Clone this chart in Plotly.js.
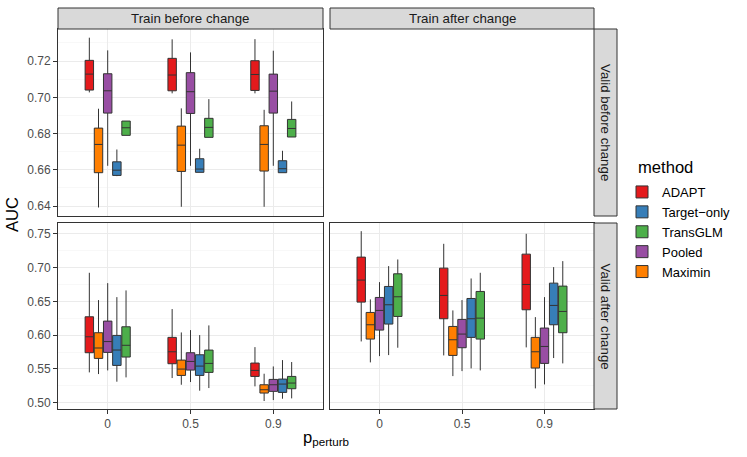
<!DOCTYPE html>
<html>
<head>
<meta charset="utf-8">
<script src="https://cdn.plot.ly/plotly-3.0.1.min.js"></script>
<style>html,body{margin:0;padding:0;background:#fff;}#chart{width:747px;height:457px;}</style>
</head>
<body>
<div id="chart"></div>
<script>
// ---- data ----
const pLabels = ['0', '0.5', '0.9'];
const methods = ['ADAPT', 'Maximin', 'Pooled', 'Target\u2212only', 'TransGLM']; // plotting (dodge) order
const legendOrder = ['ADAPT', 'Target\u2212only', 'TransGLM', 'Pooled', 'Maximin'];
const methodColors = ['#E41A1C', '#FF7F00', '#984EA3', '#377EB8', '#4DAF4A'];
const facetCols = ['Train before change', 'Train after change'];
const facetRows = ['Valid before change', 'Valid after change'];

// Panel: Train before change / Valid before change  (rows = methods, cols = pLabels)
const tbvbUpper  = [[0.7329,0.7320,0.7321],[0.6937,0.6939,0.6931],[0.7259,0.7248,0.7257],[0.6712,0.6716,0.6705],[0.6869,0.6990,0.6977]];
const tbvbQ3     = [[0.7204,0.7215,0.7202],[0.6830,0.6841,0.6843],[0.7130,0.7136,0.7128],[0.6644,0.6661,0.6650],[0.6869,0.6884,0.6878]];
const tbvbMedian = [[0.7128,0.7123,0.7126],[0.6740,0.6736,0.6740],[0.7036,0.7031,0.7034],[0.6598,0.6604,0.6606],[0.6832,0.6834,0.6828]];
const tbvbQ1     = [[0.7040,0.7036,0.7038],[0.6584,0.6591,0.6593],[0.6913,0.6911,0.6913],[0.6569,0.6586,0.6584],[0.6790,0.6779,0.6781]];
const tbvbLower  = [[0.7027,0.7022,0.7022],[0.6392,0.6396,0.6396],[0.6622,0.6622,0.6622],[0.6565,0.6586,0.6584],[0.6790,0.6779,0.6781]];

// Panel: Train before change / Valid after change
const tbvaUpper  = [[0.6923,0.6386,0.5823],[0.6519,0.6040,0.5429],[0.6770,0.6075,0.5537],[0.6563,0.6001,0.5631],[0.6662,0.6144,0.5602]];
const tbvaQ3     = [[0.6272,0.5967,0.5587],[0.6036,0.5631,0.5266],[0.6208,0.5740,0.5345],[0.5996,0.5710,0.5350],[0.6124,0.5779,0.5389]];
const tbvaMedian = [[0.5976,0.5754,0.5478],[0.5810,0.5498,0.5192],[0.5905,0.5611,0.5266],[0.5780,0.5542,0.5276],[0.5850,0.5582,0.5291]];
const tbvaQ1     = [[0.5740,0.5577,0.5389],[0.5656,0.5404,0.5143],[0.5745,0.5483,0.5168],[0.5552,0.5404,0.5153],[0.5676,0.5449,0.5207]];
const tbvaLower  = [[0.5449,0.5365,0.5242],[0.5424,0.5266,0.5025],[0.5478,0.5306,0.5039],[0.5311,0.5178,0.5059],[0.5375,0.5217,0.5064]];

// Panel: Train after change / Valid after change
const tavaUpper  = [[0.7539,0.7352,0.7500],[0.6529,0.6366,0.6267],[0.6785,0.6519,0.6563],[0.7022,0.6839,0.7007],[0.7120,0.6923,0.7096]];
const tavaQ3     = [[0.7155,0.6992,0.7199],[0.6336,0.6129,0.5967],[0.6558,0.6233,0.6105],[0.6721,0.6543,0.6770],[0.6908,0.6647,0.6726]];
const tavaMedian = [[0.6815,0.6588,0.6750],[0.6154,0.5932,0.5754],[0.6366,0.6016,0.5833],[0.6450,0.6243,0.6440],[0.6568,0.6252,0.6351]];
const tavaQ1     = [[0.6489,0.6243,0.6376],[0.5942,0.5700,0.5513],[0.6075,0.5814,0.5582],[0.6164,0.5967,0.6154],[0.6277,0.5942,0.6036]];
const tavaLower  = [[0.5907,0.5700,0.5819],[0.5597,0.5394,0.5212],[0.5690,0.5468,0.5271],[0.5705,0.5508,0.5661],[0.5814,0.5478,0.5582]];

const yTopTicks = [0.64, 0.66, 0.68, 0.70, 0.72];
const yBotTicks = [0.50, 0.55, 0.60, 0.65, 0.70, 0.75];

// ---- build ----
const FONT = 'Liberation Sans, Arial, Helvetica, sans-serif';
const panels = [
  {xa: 'x3', ya: 'y3', up: tbvbUpper, q3: tbvbQ3, med: tbvbMedian, q1: tbvbQ1, lo: tbvbLower, legend: true},
  {xa: 'x',  ya: 'y',  up: tbvaUpper, q3: tbvaQ3, med: tbvaMedian, q1: tbvaQ1, lo: tbvaLower, legend: false},
  {xa: 'x2', ya: 'y2', up: tavaUpper, q3: tavaQ3, med: tavaMedian, q1: tavaQ1, lo: tavaLower, legend: false}
];
const traces = [];
panels.forEach(p => {
  methods.forEach((m, i) => {
    traces.push({
      type: 'box',
      name: m,
      legendgroup: m,
      offsetgroup: m,
      showlegend: p.legend,
      legendrank: legendOrder.indexOf(m) + 1,
      xaxis: p.xa, yaxis: p.ya,
      x: pLabels,
      q1: p.q1[i], median: p.med[i], q3: p.q3[i],
      lowerfence: p.lo[i], upperfence: p.up[i],
      fillcolor: methodColors[i],
      line: {color: '#333333', width: 1},
      whiskerwidth: 0,
      boxpoints: false,
      hoverinfo: 'skip'
    });
  });
});

const gridC = '#ebebeb';
const L = 58, R = 594, T = 8, B = 409;
const W = R - L, H = B - T;
const px = v => (v - L) / W;
const py = v => 1 - (v - T) / H;

const xLeft = [px(58), px(323)];
const xRight = [px(330), px(594)];
const yTop = [py(216), py(29)];
const yBot = [py(409), py(223)];

function xAxis(domain, anchor, labels, isCat) {
  const a = {
    domain: domain, anchor: anchor,
    range: [-0.6, 2.6],
    showgrid: true, gridcolor: gridC, gridwidth: 1,
    showline: true, mirror: true, linecolor: '#333333', linewidth: 1,
    zeroline: false,
    ticks: labels ? 'outside' : '', ticklen: 4, tickcolor: '#333333',
    showticklabels: labels,
    tickfont: {family: FONT, size: 12, color: '#4d4d4d'},
    fixedrange: true
  };
  if (isCat) { a.type = 'category'; a.categoryorder = 'array'; a.categoryarray = pLabels; }
  else { a.type = 'linear'; a.tickvals = [0, 1, 2]; }
  return a;
}
function yAxis(domain, anchor, range, ticks, minorDt, labels) {
  return {
    domain: domain, anchor: anchor, range: range,
    tickvals: ticks, ticktext: ticks.map(v => v.toFixed(2)),
    showgrid: true, gridcolor: gridC, gridwidth: 1,
    minor: {showgrid: true, gridcolor: '#f3f3f3', gridwidth: 0.6, dtick: minorDt, tick0: 0, ticks: ''},
    showline: true, mirror: true, linecolor: '#333333', linewidth: 1,
    zeroline: false,
    ticks: labels ? 'outside' : '', ticklen: 4, tickcolor: '#333333',
    showticklabels: labels,
    tickfont: {family: FONT, size: 12, color: '#4d4d4d'},
    fixedrange: true
  };
}
const topRange = [0.6345, 0.7377];
const botRange = [0.4907, 0.7660];

const stripFill = '#d9d9d9', stripLine = '#333333';
const shapes = [
  {type: 'rect', xref: 'paper', yref: 'paper', x0: xLeft[0], x1: xLeft[1], y0: yTop[1], y1: 1, fillcolor: stripFill, line: {color: stripLine, width: 1}},
  {type: 'rect', xref: 'paper', yref: 'paper', x0: xRight[0], x1: xRight[1], y0: yTop[1], y1: 1, fillcolor: stripFill, line: {color: stripLine, width: 1}},
  {type: 'rect', xref: 'paper', yref: 'paper', x0: 1, x1: px(617), y0: yTop[0], y1: yTop[1], fillcolor: stripFill, line: {color: stripLine, width: 1}},
  {type: 'rect', xref: 'paper', yref: 'paper', x0: 1, x1: px(617), y0: yBot[0], y1: yBot[1], fillcolor: stripFill, line: {color: stripLine, width: 1}}
];
const stripFont = {family: FONT, size: 13.3, color: '#1a1a1a'};
const annotations = [
  {text: facetCols[0], xref: 'paper', yref: 'paper', x: (xLeft[0] + xLeft[1]) / 2, y: (yTop[1] + 1) / 2, showarrow: false, font: stripFont, xanchor: 'center', yanchor: 'middle'},
  {text: facetCols[1], xref: 'paper', yref: 'paper', x: (xRight[0] + xRight[1]) / 2, y: (yTop[1] + 1) / 2, showarrow: false, font: stripFont, xanchor: 'center', yanchor: 'middle'},
  {text: facetRows[0], xref: 'paper', yref: 'paper', x: px(605.5), y: (yTop[0] + yTop[1]) / 2, showarrow: false, font: stripFont, textangle: 90, xanchor: 'center', yanchor: 'middle'},
  {text: facetRows[1], xref: 'paper', yref: 'paper', x: px(605.5), y: (yBot[0] + yBot[1]) / 2, showarrow: false, font: stripFont, textangle: 90, xanchor: 'center', yanchor: 'middle'},
  {text: 'AUC', xref: 'paper', yref: 'paper', x: px(12), y: py(215), showarrow: false, font: {family: FONT, size: 16.6, color: '#000'}, textangle: -90, xanchor: 'center', yanchor: 'middle'},
  {text: 'p<sub>perturb</sub>', xref: 'paper', yref: 'paper', x: px(326), y: py(438), showarrow: false, font: {family: FONT, size: 16.6, color: '#000'}, xanchor: 'center', yanchor: 'middle'},
  {text: 'method', xref: 'paper', yref: 'paper', x: px(636), y: py(167), showarrow: false, font: {family: FONT, size: 16.6, color: '#000'}, xanchor: 'left', yanchor: 'middle'}
];

const layout = {
  width: 747, height: 457,
  margin: {l: L, r: 747 - R, t: T, b: 457 - B, pad: 0},
  paper_bgcolor: '#ffffff', plot_bgcolor: '#ffffff',
  boxmode: 'group', boxgap: 0.446, boxgroupgap: 0.08,
  font: {family: FONT},
  xaxis: xAxis(xLeft, 'y', true, true),
  xaxis2: xAxis(xRight, 'y2', true, true),
  xaxis3: xAxis(xLeft, 'y3', false, true),
  xaxis4: xAxis(xRight, 'y4', false, false),
  yaxis: yAxis(yBot, 'x', botRange, yBotTicks, 0.025, true),
  yaxis2: yAxis(yBot, 'x2', botRange, yBotTicks, 0.025, false),
  yaxis3: yAxis(yTop, 'x3', topRange, yTopTicks, 0.01, true),
  yaxis4: yAxis(yTop, 'x4', topRange, yTopTicks, 0.01, false),
  showlegend: true,
  legend: {
    x: px(622), xanchor: 'left', y: py(177), yanchor: 'top',
    font: {family: FONT, size: 13, color: '#000'},
    bgcolor: 'rgba(0,0,0,0)', borderwidth: 0,
    tracegroupgap: 0, itemwidth: 30, traceorder: 'normal'
  },
  shapes: shapes,
  annotations: annotations
};

Plotly.newPlot('chart', traces, layout, {staticPlot: true, displayModeBar: false});
</script>
</body>
</html>
